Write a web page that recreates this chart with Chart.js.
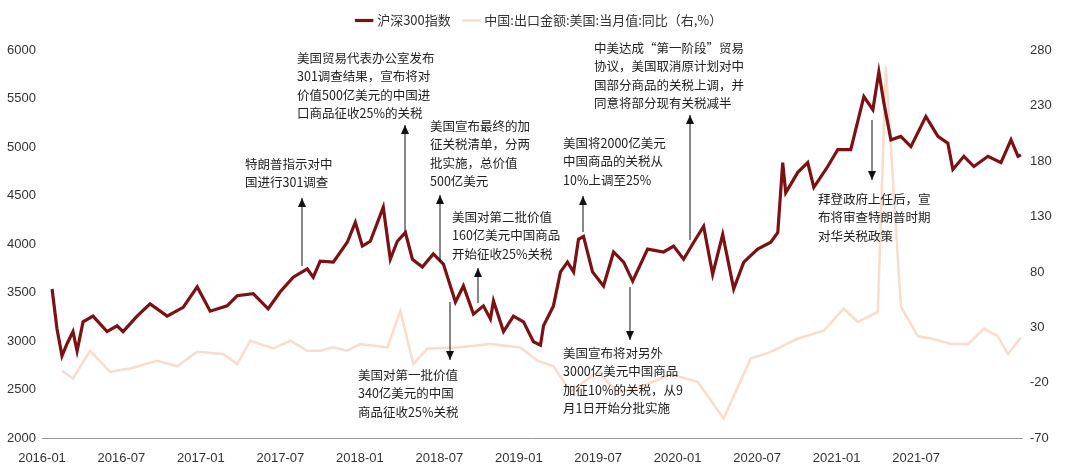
<!DOCTYPE html>
<html><head><meta charset="utf-8">
<script src="https://cdn.jsdelivr.net/npm/chart.js@4"></script>
<style>html,body{margin:0;padding:0;background:#fff}#w{width:1080px;height:474px}</style>
</head><body><div id="w"><canvas id="c"></canvas></div>
<script>
// x = months since 2016-01
const csiMonths=[0.76,1.13,1.51,1.89,2.34,2.65,3.10,3.85,4.91,5.67,6.12,7.18,8.16,9.45,10.66,11.72,12.70,13.98,14.74,15.95,17.08,17.99,18.97,20.03,20.48,21.01,22.00,23.05,23.66,24.19,24.79,25.77,26.30,26.83,27.44,27.97,28.72,29.55,30.31,31.22,31.82,32.58,33.33,33.86,34.09,34.85,35.60,36.36,37.11,37.64,37.87,38.62,39.15,39.68,40.14,40.51,40.89,41.57,42.40,43.16,43.92,44.60,45.73,46.94,47.69,48.45,49.21,49.96,50.64,51.40,52.23,52.99,54.04,55.03,55.56,55.93,56.16,57.07,57.82,58.28,59.33,60.09,61.07,62.06,62.74,63.19,63.57,64.10,64.85,65.61,66.74,67.65,68.40,68.78,69.61,70.37,71.43,72.41,73.17,73.70,73.92];
const csiValues=[3538,3130,2850,2975,3100,2900,3200,3260,3100,3160,3100,3260,3385,3260,3350,3560,3310,3365,3470,3490,3335,3510,3660,3745,3660,3825,3815,4020,4225,3980,4030,4380,3845,4030,4120,3845,3765,3900,3795,3405,3570,3280,3365,3230,3415,3100,3260,3200,2995,2960,3160,3365,3715,3815,3715,4050,4080,3715,3570,3920,3815,3620,3950,3920,3980,3845,4020,4185,3690,4100,3540,3815,3950,4020,4120,4840,4530,4740,4840,4585,4800,4975,4975,5520,5385,5775,5455,5075,5110,5005,5315,5110,5040,4770,4905,4800,4905,4840,5075,4905,4920];
const expMonths=[1.51,2.34,3.63,5.14,6.65,8.69,10.20,11.72,13.68,14.74,15.72,17.46,18.75,20.03,21.01,22.00,23.05,24.04,26.08,27.06,28.04,29.10,31.37,33.86,36.13,37.41,38.62,39.91,41.95,43.46,44.97,47.47,49.51,51.47,53.51,55.03,57.07,59.03,60.54,61.60,63.11,63.72,64.85,66.14,67.12,68.63,69.92,71.13,72.18,72.94,73.92];
const expValues=[-9,-16,9,-10,-7,0,-5,8,6,-3,18,11,18,9,9,12,9,15,12,45,-3,11,12,15,12,0,-5,-28,-10,-28,-25,-12,-19,-52,2,8,20,27,47,35,44,265,49,22,20,15,15,29,22,6,21];
const leftTicks=[2000,2500,3000,3500,4000,4500,5000,5500,6000];
const rightTicks=[-70,-20,30,80,130,180,230,280];
const notes=[
 {t:["特朗普指示对中","国进行301调查"],tx:245,ty:158,ax:302,y1:266,y2:198},
 {t:["美国贸易代表办公室发布","301调查结果，宣布将对","价值500亿美元的中国进","口商品征收25%的关税"],tx:297,ty:52,ax:405,y1:232,y2:125},
 {t:["美国宣布最终的加","征关税清单，分两","批实施，总价值","500亿美元"],tx:430,ty:120,ax:440,y1:262,y2:195},
 {t:["美国对第二批价值","160亿美元中国商品","开始征收25%关税"],tx:452,ty:211,ax:478,y1:303,y2:268},
 {t:["美国对第一批价值","340亿美元的中国","商品征收25%关税"],tx:358,ty:369,ax:450,y1:302,y2:360},
 {t:["美国将2000亿美元","中国商品的关税从","10%上调至25%"],tx:563,ty:137,ax:583,y1:232,y2:196},
 {t:["中美达成“第一阶段”贸易","协议，美国取消原计划对中","国部分商品的关税上调，并","同意将部分现有关税减半"],tx:594,ty:42,ax:690,y1:240,y2:115},
 {t:["美国宣布将对另外","3000亿美元中国商品","加征10%的关税，从9","月1日开始分批实施"],tx:563,ty:347,ax:630,y1:287,y2:340},
 {t:["拜登政府上任后，宣","布将审查特朗普时期","对华关税政策"],tx:818,ty:193,ax:872,y1:120,y2:180}
];
const F='"Noto Sans CJK SC","Noto Sans",sans-serif';
const notePlugin={id:'notes',afterDraw(ch){const c=ch.ctx;c.save();c.font='12.5px '+F;c.fillStyle='#222';c.textBaseline='top';
 notes.forEach(n=>{n.t.forEach((l,i)=>c.fillText(l,n.tx,n.ty+i*18.3));
  c.strokeStyle='#111';c.lineWidth=1;c.beginPath();c.moveTo(n.ax,n.y1);c.lineTo(n.ax,n.y2);c.stroke();
  const d=n.y2<n.y1?1:-1;c.fillStyle='#111';c.beginPath();c.moveTo(n.ax,n.y2);c.lineTo(n.ax-4,n.y2+d*9);c.lineTo(n.ax+4,n.y2+d*9);c.closePath();c.fill();c.fillStyle='#222';});
 c.restore();}};
Chart.defaults.font.family='"Liberation Sans",Arial,sans-serif';Chart.defaults.font.size=13;Chart.defaults.color='#333';
new Chart(document.getElementById('c'),{type:'line',
 data:{datasets:[
  {label:'沪深300指数',data:csiMonths.map((m,i)=>({x:m,y:csiValues[i]})),borderColor:'#7B1113',backgroundColor:'#7B1113',borderWidth:3.2,pointRadius:0,tension:0,yAxisID:'y'},
  {label:'中国:出口金额:美国:当月值:同比（右,%）',data:expMonths.map((m,i)=>({x:m,y:expValues[i]})),borderColor:'#F9DCCB',backgroundColor:'#F9DCCB',borderWidth:2.5,pointRadius:0,tension:0,yAxisID:'y1'}
 ]},
 options:{responsive:true,maintainAspectRatio:false,animation:false,
  layout:{padding:{left:0,right:0,top:0,bottom:4}},
  plugins:{legend:{position:'top',labels:{usePointStyle:true,pointStyle:'line',boxWidth:40,padding:14,color:'#333',font:{size:13,family:F}}},tooltip:{enabled:false}},
  scales:{
   x:{type:'linear',min:0,max:74,grid:{display:false,drawTicks:true},border:{display:true,color:'#999'},
      afterBuildTicks(s){s.ticks=[];for(let m=0;m<=66;m+=6)s.ticks.push({value:m});},
      ticks:{maxRotation:0,padding:4,callback:v=>{const y=2016+Math.floor(v/12),mo=v%12+1;return y+'-'+String(mo).padStart(2,'0');}}},
   y:{position:'left',min:2000,max:6000,grid:{display:false,drawTicks:false},border:{display:false},afterFit(s){s.width=42;},
      afterBuildTicks(s){s.ticks=leftTicks.map(v=>({value:v}));},ticks:{padding:6,callback:v=>String(v)}},
   y1:{position:'right',min:-70,max:280,grid:{display:false,drawTicks:false},border:{display:false},afterFit(s){s.width=58;},
      afterBuildTicks(s){s.ticks=rightTicks.map(v=>({value:v}));},ticks:{padding:8,callback:v=>String(v)}}
  }},
 plugins:[notePlugin,{id:'legPad',afterInit(ch){const lg=ch.legend;const o=lg.fit;lg.fit=function(){o.call(this);this.height+=13;};}}]});
</script></body></html>
